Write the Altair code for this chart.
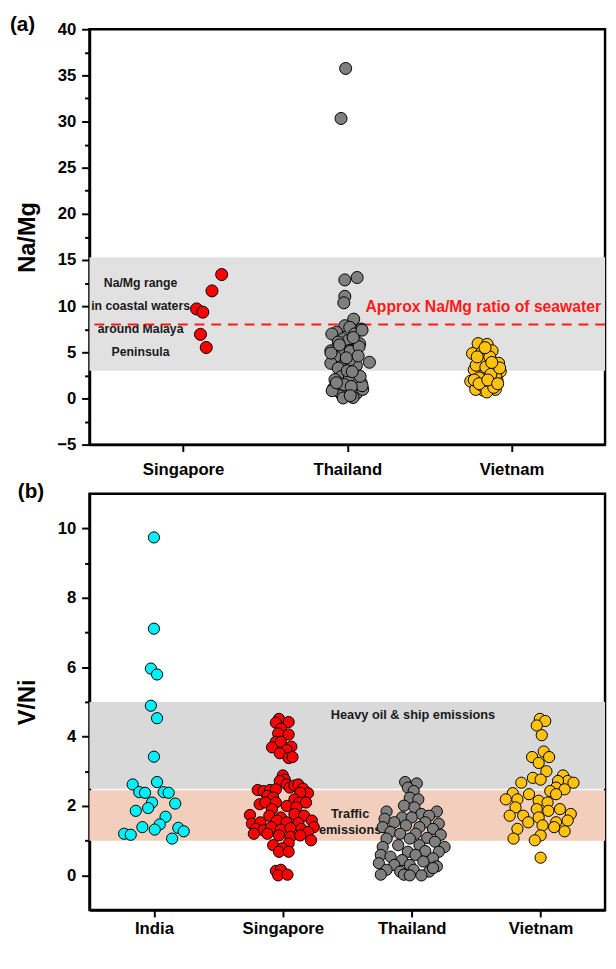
import altair as alt
import pandas as pd

FONT = "Liberation Sans"

# ---------------- Panel (a): Na/Mg ----------------
a_countries = ["Singapore", "Thailand", "Vietnam"]
a_colors = ["#ff0000", "#7f7f7f", "#ffc20e"]

a_sg_val = [13.42, 11.65, 9.70, 9.35, 6.94, 5.52]
a_sg_dx = [0.235, 0.176, 0.082, 0.120, 0.106, 0.141]

a_th_val = [35.75, 30.33, 12.84, 13.10, 11.06, 10.36, 8.59,
            7.88, 7.70, 7.52, 7.17, 6.99, 6.46, 6.99, 5.93, 6.28, 6.11,
            5.16, 5.22, 4.87, 5.05, 4.52, 3.81, 3.57, 3.92, 3.63, 3.28,
            4.16, 2.40, 2.57, 1.69, 2.04, 2.04, 1.08, 0.45, 0.52, 0.98,
            0.98, 0.81, 0.10, 0.05, 4.92, 7.40, 0.84, 1.38, 1.56, 5.10,
            5.60, 2.44, 2.40, 3.00, 2.90, 1.50, 1.30, 5.80, 6.60, 4.40,
            4.60, 1.70, 0.30]
a_th_dx = [-0.010, -0.038, -0.015, 0.060, -0.015, -0.021, 0.039,
           -0.015, 0.015, 0.085, -0.065, 0.045, -0.025, -0.094, 0.075, 0.005, -0.055,
           -0.100, 0.015, -0.035, 0.055, -0.075, -0.100, 0.055, 0.135, -0.015, -0.055,
           0.015, -0.035, 0.015, 0.085, -0.075, 0.045, -0.085, -0.035, 0.055, 0.094,
           0.005, -0.055, 0.035, -0.025, -0.099, 0.090, -0.092, 0.090, -0.040, 0.018,
           0.072, 0.012, 0.078, 0.000, 0.030, -0.018, 0.024, -0.048, 0.036, -0.006,
           0.066, -0.066, 0.018]

a_vn_val = [5.94, 5.86, 5.16, 4.87, 5.05, 3.81, 2.82, 3.10, 3.28, 1.87,
            0.91, 0.98, 1.69, 1.97, 2.22, 0.98, 2.93, 4.20, 4.50, 3.60,
            3.40, 2.50, 1.40, 2.60, 2.00, 3.30, 0.70, 1.60, 1.20, 5.50,
            3.90, 4.50, 2.00, 1.60]
a_vn_dx = [-0.203, -0.148, -0.118, -0.237, -0.178, -0.078, -0.202, -0.227, -0.118, -0.248,
           -0.173, -0.098, -0.138, -0.088, -0.197, -0.218, -0.068, -0.173, -0.132, -0.215,
           -0.156, -0.096, -0.179, -0.126, -0.227, -0.072, -0.150, -0.197, -0.108, -0.161,
           -0.120, -0.209, -0.144, -0.084]

a_band = [3.0, 15.3]
a_seawater = 8.0
a_notes = ["Na/Mg range", "in coastal waters", "around Malaya", "Peninsula"]
a_notes_y = [12.47, 9.99, 7.47, 5.03]
a_notes_x = 0.741
a_sea_label = "Approx Na/Mg ratio of seawater"
a_sea_label_pos = [3.546, 9.9]

# ---------------- Panel (b): V/Ni ----------------
b_countries = ["India", "Singapore", "Thailand", "Vietnam"]
b_colors = ["#00f0f8", "#ff0000", "#7f7f7f", "#ffc20e"]

b_in_val = [9.74, 7.11, 5.96, 5.79, 4.89, 4.53, 3.42, 2.69, 2.62, 2.40, 2.38, 2.40, 2.38,
            2.10, 2.07, 1.86, 1.94, 1.69, 1.47, 1.39, 1.32, 1.37, 1.27, 1.20, 1.17, 1.06]
b_in_dx = [0.0, 0.0, -0.024, 0.024, -0.024, 0.024, 0.0, 0.024, -0.165, -0.114, -0.069, 0.075, 0.114,
           -0.015, 0.165, -0.141, -0.045, 0.090, 0.045, -0.090, 0.006, 0.189, 0.231, -0.231, -0.180, 0.141]

b_sg_val = [4.51, 4.42, 4.40, 4.23, 4.09, 4.06, 3.85, 3.69, 3.85, 3.71, 3.61, 3.52, 3.38, 3.41,
            0.13, 0.16, 0.00, 0.02,
            2.88, 2.76, 2.72, 2.62, 2.53, 2.46, 2.43, 2.46, 2.48, 2.59, 2.62, 2.50, 2.37, 2.38,
            2.29, 2.24, 2.19, 2.10, 2.10, 2.05, 2.10, 2.10, 2.00, 1.96, 1.91, 1.74, 1.72, 1.67,
            1.77, 1.72, 1.49, 1.53, 1.58, 1.53, 1.51, 1.58, 1.39, 1.34, 1.30, 1.39, 1.32, 1.36,
            1.34, 1.25, 1.20, 1.20, 1.15, 1.11, 1.15, 1.01, 0.87, 0.92, 0.78, 0.68, 0.68]
b_sg_dx = [-0.030, 0.045, -0.054, -0.015, -0.036, 0.045, -0.054, -0.084, -0.015, 0.066, 0.030, -0.024, 0.045, 0.075,
           -0.054, -0.015, -0.036, 0.036,
           0.000, 0.015, -0.024, 0.030, 0.054, -0.195, -0.150, -0.099, -0.054, 0.090, 0.120, 0.156, 0.195, 0.135,
           -0.120, -0.075, 0.090, 0.126, 0.180, -0.180, -0.135, -0.054, 0.030, 0.105, -0.084, -0.255, -0.105, -0.015,
           0.090, 0.165, -0.240, -0.174, -0.045, 0.030, 0.120, 0.225, 0.240, -0.210, -0.150, -0.090, -0.015, 0.060,
           0.144, 0.195, -0.225, -0.120, -0.030, 0.060, 0.135, 0.219, -0.075, 0.045, -0.006, -0.030, 0.045]

b_th_val = [2.69, 2.65, 2.53, 2.43, 2.24, 2.19, 2.01, 1.96, 1.84, 1.84, 1.77, 1.72, 1.63, 1.67,
            1.67, 1.53, 1.53, 1.49, 1.39, 1.44, 1.39, 1.34, 1.25, 1.20, 1.20, 1.17, 1.06, 1.06,
            1.08, 0.97, 0.82, 0.87, 0.87, 0.82, 0.68, 0.70, 0.68, 0.59, 0.54, 0.59, 0.49, 0.44,
            0.40, 0.35, 0.30, 0.30, 0.26, 0.16, 0.11, 0.16, 0.11, 0.02, 0.02, 0.00, 0.00, 0.21]
b_th_dx = [-0.051, 0.039, -0.030, 0.015, -0.015, 0.051, -0.060, 0.021, -0.195, 0.195, 0.075, 0.135, -0.210, -0.075,
           0.000, -0.135, 0.105, 0.210, -0.225, -0.045, 0.060, 0.165, -0.165, -0.090, 0.030, 0.225, -0.195, -0.015,
           0.120, 0.180, -0.225, -0.105, 0.060, 0.255, -0.030, 0.105, 0.210, -0.240, -0.165, 0.030, 0.165, -0.075,
           0.090, -0.255, -0.135, -0.015, 0.195, -0.195, -0.090, 0.015, 0.135, -0.240, -0.060, -0.015, 0.075, 0.165]

b_vn_val = [4.51, 4.45, 4.32, 4.04, 3.41, 3.57, 3.24, 3.41, 3.00, 2.81, 2.76, 2.67, 2.88, 2.72, 2.67,
            2.72, 2.53, 2.43, 2.48, 2.37, 2.34, 2.15, 2.34, 2.19, 2.19, 2.10, 1.96, 1.91, 1.86, 1.91,
            1.77, 1.72, 1.72, 1.67, 1.53, 1.53, 1.58, 1.44, 1.39, 1.34, 1.27, 1.15, 1.06, 1.01, 0.51]
b_vn_dx = [-0.006, 0.036, -0.030, 0.009, -0.066, 0.024, -0.015, 0.066, 0.045, -0.060, 0.000, -0.150, 0.174, 0.210, 0.255,
           0.135, 0.120, 0.075, 0.186, -0.216, -0.090, -0.015, 0.120, -0.270, -0.180, 0.054, -0.195, -0.030, 0.060, 0.150,
           0.234, -0.240, -0.135, -0.015, -0.096, 0.120, 0.210, 0.015, 0.105, -0.180, 0.186, 0.000, -0.210, -0.045, 0.000]

b_heavy_band = [2.5, 5.0]
b_traffic_band = [1.0, 2.45]
b_notes = ["Heavy oil & ship emissions", "Traffic", "emissions"]
b_notes_x = [3.01, 2.522, 2.522]
b_notes_y = [4.61, 1.77, 1.31]


# ---------------- helpers ----------------
def points_df(groups, colors):
    rows = []
    for idx, ((name, vals, dxs), col) in enumerate(zip(groups, colors), start=1):
        for v, d in zip(vals, dxs):
            rows.append({"country": name, "idx": idx, "dx": d, "val": v, "col": col})
    return pd.DataFrame(rows)


def panel(df, countries, xdom, ydom, major, minor, ytitle, bands, notes_df,
          extra_layers, tag, height, psize, xlabpad):
    xscale = alt.Scale(domain=xdom, nice=False, zero=False)
    yscale = alt.Scale(domain=ydom, nice=False, zero=False)
    label_expr = "[" + ",".join(["''"] + [f"'{c}'" for c in countries]) + "][datum.value]"

    band_layer = alt.Chart(bands).mark_rect().encode(
        y=alt.Y("lo:Q", scale=yscale,
                axis=alt.Axis(orient="left", values=minor, labels=False, domain=False,
                              tickSize=5, tickWidth=2, grid=False, title=None)),
        y2="hi:Q",
        color=alt.Color("col:N", scale=None),
    )
    notes_layer = alt.Chart(notes_df).mark_text(
        font=FONT, fontWeight="bold", color="#1a1a1a", align="center", baseline="middle"
    ).encode(
        x=alt.X("x:Q", scale=xscale, axis=None),
        y=alt.Y("y:Q", scale=yscale, axis=None),
        text="text:N",
        size=alt.Size("fs:Q", scale=None),
    )
    pts = alt.Chart(df).transform_calculate(pos="datum.idx + datum.dx").mark_circle(
        size=psize, opacity=1, stroke="black", strokeWidth=1
    ).encode(
        x=alt.X("pos:Q", scale=xscale,
                axis=alt.Axis(orient="bottom", values=list(range(1, len(countries) + 1)),
                              labelExpr=label_expr, title=None, grid=False, tickSize=7,
                              tickWidth=2, labelPadding=xlabpad, labelFontSize=17)),
        y=alt.Y("val:Q", scale=yscale,
                axis=alt.Axis(orient="left", values=major, title=ytitle, grid=False,
                              tickSize=8, tickWidth=2, labelPadding=6, labelFontSize=17,
                              minExtent=38, maxExtent=38, titlePadding=13,
                              titleFontSize=24)),
        color=alt.Color("col:N", scale=None),
    )
    tag_layer = alt.Chart(pd.DataFrame({"t": [tag[0]]})).mark_text(
        font=FONT, fontWeight="bold", fontSize=21, align="left", baseline="top", color="black"
    ).encode(x=alt.value(tag[1]), y=alt.value(tag[2]), text="t:N")

    layers = [band_layer, notes_layer] + extra_layers(xscale, yscale) + [pts, tag_layer]
    return alt.layer(*layers).resolve_axis(x="independent", y="independent").properties(
        width=525, height=height)


# ---- panel a
df_a = points_df([("Singapore", a_sg_val, a_sg_dx),
                  ("Thailand", a_th_val, a_th_dx),
                  ("Vietnam", a_vn_val, a_vn_dx)], a_colors)
bands_a = pd.DataFrame({"lo": [a_band[0]], "hi": [a_band[1]], "col": ["#e1e1e1"]})
notes_a = pd.DataFrame({"text": a_notes, "x": [a_notes_x] * 4, "y": a_notes_y, "fs": [12.5] * 4})


def extra_a(xscale, yscale):
    rule = alt.Chart(pd.DataFrame({"y": [a_seawater]})).mark_rule(
        color="#ff1a1a", strokeWidth=2, strokeDash=[10, 7]
    ).encode(y=alt.Y("y:Q", scale=yscale, axis=None))
    sea = alt.Chart(pd.DataFrame({"t": [a_sea_label], "x": [a_sea_label_pos[0]],
                                  "y": [a_sea_label_pos[1]]})).mark_text(
        font=FONT, fontWeight="bold", fontSize=16, color="#ff1a1a", align="right", baseline="middle"
    ).encode(x=alt.X("x:Q", scale=xscale, axis=None), y=alt.Y("y:Q", scale=yscale, axis=None), text="t:N")
    return [rule, sea]


panel_a = panel(df_a, a_countries, [0.43, 3.57], [-5, 40],
                list(range(-5, 41, 5)), [-2.5 + 5 * i for i in range(9)], "Na/Mg",
                bands_a, notes_a, extra_a, ("(a)", -81, -15), 423, 150, 10)

# ---- panel b
df_b = points_df([("India", b_in_val, b_in_dx),
                  ("Singapore", b_sg_val, b_sg_dx),
                  ("Thailand", b_th_val, b_th_dx),
                  ("Vietnam", b_vn_val, b_vn_dx)], b_colors)
bands_b = pd.DataFrame({"lo": [b_heavy_band[0], b_traffic_band[0]],
                        "hi": [b_heavy_band[1], b_traffic_band[1]],
                        "col": ["#d9d9d9", "#f2cfbc"]})
notes_b = pd.DataFrame({"text": b_notes, "x": b_notes_x, "y": b_notes_y, "fs": [13, 13, 13]})

panel_b = panel(df_b, b_countries, [0.5, 4.5], [-1, 11],
                [0, 2, 4, 6, 8, 10], [1, 3, 5, 7, 9], "V/Ni",
                bands_b, notes_b, lambda xs, ys: [], ("(b)", -73, -13), 424, 130, 4)

chart = alt.vconcat(panel_a, panel_b, spacing=0).properties(
    padding={"left": 0, "top": -4, "right": 0, "bottom": 0}
).configure_view(
    stroke="black", strokeWidth=2.5
).configure_axis(
    labelFont=FONT, labelFontWeight="bold", labelColor="black",
    titleFont=FONT, titleFontWeight="bold", titleColor="black",
    domainColor="black", domainWidth=2.5, tickColor="black",
)

chart.save("out.html", embed_options={"renderer": "svg", "actions": False})
